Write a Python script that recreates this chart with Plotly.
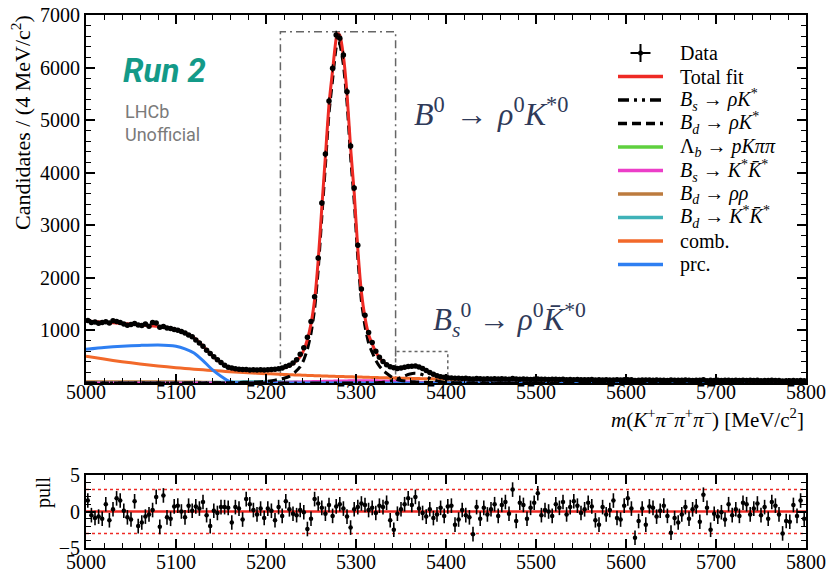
import plotly.graph_objects as go

# ---------------- data ----------------
BIN_CENTERS = [5002 + 4 * i for i in range(200)]

DATA_COUNTS = [
    1190, 1150, 1160, 1135, 1150, 1165, 1140, 1185, 1170, 1150,
    1120, 1100, 1115, 1130, 1105, 1095, 1120, 1080, 1150, 1140,
    1060, 1075, 1045, 1035, 1020, 1005, 980, 950, 915, 880,
    820, 760, 700, 625, 560, 500, 440, 390, 340, 300,
    285, 272, 262, 255, 258, 248, 252, 246, 250, 245,
    252, 256, 262, 272, 285, 315, 340, 380, 440, 545,
    670, 870, 1170, 1640, 2380, 3424, 4356, 5364, 5986, 6620,
    6560, 6240, 5541, 4508, 3709, 2620, 1790, 1290, 960, 770,
    605, 490, 410, 345, 308, 290, 276, 283, 300, 312,
    320, 322, 305, 275, 238, 200, 168, 140, 120, 108,
    100, 95, 90, 92, 86, 88, 82, 78, 84, 80,
    78, 82, 76, 79, 74, 80, 77, 72, 86, 74,
    70, 76, 71, 68, 73, 78, 70, 72, 66, 69,
    70, 67, 71, 64, 66, 63, 68, 61, 64, 60,
    65, 58, 62, 57, 63, 59, 55, 61, 58, 63,
    60, 64, 47, 54, 59, 55, 57, 53, 58, 54,
    52, 47, 55, 51, 54, 50, 55, 52, 49, 53,
    50, 60, 45, 52, 49, 51, 48, 50, 52, 48,
    51, 46, 50, 48, 52, 47, 50, 45, 49, 47,
    50, 46, 48, 38, 44, 43, 47, 42, 48, 44,
]

PULLS = [
    1.5, -0.5, -0.9, -0.7, -1.0, 1.0, -1.2, 0.3, 1.8, 1.5,
    0.1, -0.8, -1.1, 1.4, -2.0, -1.5, -0.7, -0.4, 0.2, 2.0,
    -2.1, 2.2, -0.8, -1.0, 0.7, 0.8, 0.0, -0.8, 0.8, 0.1,
    0.7, 0.4, 1.3, -0.5, -2.0, 0.1, -0.2, 0.6, 0.6, 0.5,
    -1.5, 0.6, 0.4, -1.1, 1.7, 1.0, 0.2, -0.4, 0.4, -0.9,
    0.4, 0.1, -1.2, 0.6, -0.6, 1.4, 0.3, -0.3, -0.5, 0.2,
    -0.1, -2.4, -1.0, 1.7, 1.1, 0.5, -0.3, 0.9, -0.6, 0.7,
    1.0, 0.4, -0.7, -2.2, 0.3, 0.6, 1.1, 0.9, 0.2, 0.5,
    -0.2, 0.8, 0.6, 1.2, -1.2, -2.5, -0.3, 0.3, 1.0, 1.8,
    0.9, 2.0, 0.4, -0.2, -0.7, 0.3, -0.9, -0.4, 0.5, -0.6,
    0.7, 0.8, -1.8, -1.1, 0.2, -0.5, -0.8, -3.1, 0.6, -1.0,
    0.5, -0.4, 0.3, 1.0, -0.6, 0.9, 1.3, -0.3, 3.0, -1.3,
    1.2, 0.9, -1.0, 0.5, 1.2, 2.5, -0.5, 0.2, 0.0, -0.6,
    1.0, 0.5, 1.3, -0.4, 0.6, 1.4, 0.8, -0.2, 0.3, 1.2,
    0.7, -1.2, -1.8, 0.6, -0.4, 0.2, 1.5, -0.9, -1.1, 0.8,
    1.8, 0.4, -3.6, -1.3, 0.4, -1.8, 0.7, 0.5, -0.7, 0.1,
    0.8, -0.6, -2.9, -0.9, -1.5, -0.4, 0.6, -1.0, 0.3, 0.7,
    -1.4, 2.3, 0.5, -2.5, -0.3, -0.7, -0.1, -1.1, 1.0, -0.5,
    0.3, -0.6, 1.2, 1.0, -0.4, 0.4, 1.1, -0.5, 0.6, -1.0,
    1.3, 0.8, -0.4, -3.0, -1.3, -1.4, 0.9, -0.6, 1.5, -1.0,
]

FIT_X = [
    5000, 5020, 5040, 5060, 5080, 5100, 5110, 5120, 5130, 5140,
    5150, 5160, 5170, 5180, 5190, 5200, 5210, 5220, 5226, 5232,
    5238, 5242, 5246, 5250, 5254, 5258, 5262, 5266, 5270, 5274,
    5278, 5280, 5282, 5286, 5290, 5294, 5298, 5302, 5306, 5310,
    5314, 5318, 5322, 5326, 5330, 5335, 5340, 5345, 5350, 5355,
    5360, 5365, 5370, 5375, 5380, 5385, 5390, 5400, 5410, 5425,
    5450, 5500, 5550, 5600, 5650, 5700, 5750, 5800,
]

COMB = [
    510, 455, 406, 363, 325, 292, 277, 263, 250, 238,
    226, 215, 205, 195, 186, 178, 170, 162, 158, 154,
    150, 147, 145, 142, 140, 137, 135, 133, 130, 128,
    126, 125, 124, 122, 120, 118, 116, 114, 112, 110,
    108, 106, 104, 102, 100, 98, 96, 94, 92, 90,
    88, 86, 84, 82, 80, 79, 77, 74, 71, 67,
    61, 52, 46, 41, 37, 34, 31, 29,
]

PRC = [
    640, 675, 700, 715, 725, 700, 650, 570, 425, 260,
    130, 25, 0, 0, 0, 0, 0, 0, 0, 0,
    0, 0, 0, 0, 0, 0, 0, 0, 0, 0,
    0, 0, 0, 0, 0, 0, 0, 0, 0, 0,
    0, 0, 0, 0, 0, 0, 0, 0, 0, 0,
    0, 0, 0, 0, 0, 0, 0, 0, 0, 0,
    0, 0, 0, 0, 0, 0, 0, 0,
]

BD_RHOK = [
    0, 0, 0, 0, 1, 1, 1, 2, 2, 3,
    4, 6, 10, 15, 21, 30, 55, 90, 125, 200,
    310, 440, 640, 940, 1400, 2150, 3150, 4130, 5130, 5770,
    6380, 6470, 6440, 6050, 5330, 4300, 3450, 2380, 1560, 1080,
    760, 580, 430, 320, 240, 170, 108, 70, 48, 36,
    28, 22, 17, 14, 11, 9, 7, 5, 3, 2,
    1, 0, 0, 0, 0, 0, 0, 0,
]

BS_RHOK = [
    0, 0, 0, 0, 0, 0, 0, 0, 0, 0,
    0, 0, 0, 0, 0, 0, 0, 0, 0, 0,
    0, 0, 0, 0, 0, 0, 0, 0, 0, 0,
    0, 0, 1, 1, 1, 1, 2, 2, 3, 3,
    4, 5, 6, 10, 16, 28, 45, 70, 105, 142,
    170, 184, 178, 150, 105, 68, 40, 12, 3, 1,
    0, 0, 0, 0, 0, 0, 0, 0,
]

LB_PKPIPI = [
    3, 3, 3, 3, 3, 3, 3, 3, 3, 3,
    3, 3, 3, 3, 3, 3, 3, 4, 4, 4,
    4, 4, 4, 4, 5, 5, 5, 5, 5, 6,
    6, 6, 6, 6, 7, 7, 7, 7, 8, 8,
    8, 8, 9, 9, 9, 9, 10, 10, 10, 10,
    11, 11, 11, 11, 12, 12, 12, 12, 13, 13,
    14, 15, 15, 14, 14, 13, 12, 11,
]

BS_KSTKST = [
    0, 0, 0, 0, 0, 0, 0, 0, 0, 0,
    0, 1, 2, 3, 5, 7, 10, 13, 15, 18,
    20, 22, 24, 26, 27, 29, 30, 32, 34, 35,
    37, 38, 38, 39, 40, 41, 42, 42, 42, 42,
    42, 42, 41, 40, 38, 36, 33, 30, 26, 22,
    18, 15, 12, 9, 7, 5, 3, 1, 0, 0,
    0, 0, 0, 0, 0, 0, 0, 0,
]

BD_RHORHO = [
    25, 24, 25, 25, 24, 22, 20, 18, 16, 13,
    11, 9, 7, 5, 4, 3, 2, 1, 1, 1,
    0, 0, 0, 0, 0, 0, 0, 0, 0, 0,
    0, 0, 0, 0, 0, 0, 0, 0, 0, 0,
    0, 0, 0, 0, 0, 0, 0, 0, 0, 0,
    0, 0, 0, 0, 0, 0, 0, 0, 0, 0,
    0, 0, 0, 0, 0, 0, 0, 0,
]

BD_KSTKST = [
    0, 0, 0, 0, 0, 0, 1, 3, 6, 10,
    14, 20, 21, 23, 24, 24, 23, 21, 20, 18,
    16, 15, 14, 13, 12, 11, 10, 9, 8, 7,
    6, 6, 5, 5, 4, 4, 3, 3, 2, 2,
    2, 1, 1, 1, 1, 1, 1, 0, 0, 0,
    0, 0, 0, 0, 0, 0, 0, 0, 0, 0,
    0, 0, 0, 0, 0, 0, 0, 0,
]

X_TICKS = [5000, 5100, 5200, 5300, 5400, 5500, 5600, 5700, 5800]
Y_TICKS = [1000, 2000, 3000, 4000, 5000, 6000, 7000]
PULL_TICKS = [-5, 0, 5]
PULL_TICK_TEXT = ["\u22125", "0", "5"]

LEGEND_LABELS = [
    "Data",
    "Total fit",
    "<i>B<sub>s</sub></i> \u2192 <i>\u03c1K</i><sup>*</sup>",
    "<i>B<sub>d</sub></i> \u2192 <i>\u03c1K</i><sup>*</sup>",
    "\u039b<sub><i>b</i></sub> \u2192 <i>pK\u03c0\u03c0</i>",
    "<i>B<sub>s</sub></i> \u2192 <i>K</i><sup>*</sup><i>K\u0304</i><sup>*</sup>",
    "<i>B<sub>d</sub></i> \u2192 <i>\u03c1\u03c1</i>",
    "<i>B<sub>d</sub></i> \u2192 <i>K</i><sup>*</sup><i>K\u0304</i><sup>*</sup>",
    "comb.",
    "prc.",
]

# signal windows drawn as boxes
BD_WINDOW = (5216, 5344, 6680)
BS_WINDOW = (5344, 5402, 600)

components = [COMB, PRC, BD_RHOK, BS_RHOK, LB_PKPIPI, BS_KSTKST, BD_RHORHO, BD_KSTKST]
for c in components:
    assert len(c) == len(FIT_X), len(c)
assert len(DATA_COUNTS) == 200 and len(PULLS) == 200
TOTAL_FIT = [sum(v) for v in zip(*components)]

# ---------------- styles ----------------
C_TOTAL = "#ee2a24"
C_LB = "#5fd03f"
C_BSKK = "#ec3ec8"
C_RHORHO = "#bc7b3e"
C_BDKK = "#3fb2b8"
C_COMB = "#f2692a"
C_PRC = "#2e7ff2"
DASH_BD = "9px,5px"
DASH_BS = "11px,5px,3px,5px,3px,5px"

# ---------------- figure ----------------
W, H = 830, 574
ML, MR, MT, MB = 86, 24, 15, 26
PW, PH = W - ML - MR, H - MT - MB


def px(x):
    return (x - ML) / PW


def py(y):
    return (H - MB - y) / PH


SERIF = "Liberation Serif"
fig = go.Figure()


def comp(y, color, dash="solid"):
    fig.add_trace(go.Scatter(
        x=FIT_X, y=y, mode="lines", showlegend=False,
        line=dict(color=color, width=3, dash=dash, shape="spline", smoothing=0.5),
        xaxis="x", yaxis="y", hoverinfo="skip"))


comp(BD_RHORHO, C_RHORHO)
comp(LB_PKPIPI, C_LB)
comp(BD_KSTKST, C_BDKK)
comp(BS_KSTKST, C_BSKK)
comp(COMB, C_COMB)
comp(PRC, C_PRC)
comp(BD_RHOK, "black", DASH_BD)
comp(BS_RHOK, "black", DASH_BS)
comp(TOTAL_FIT, C_TOTAL)

# data points
fig.add_trace(go.Scatter(
    x=BIN_CENTERS, y=DATA_COUNTS, mode="markers", showlegend=False,
    marker=dict(color="black", size=5.5),
    error_y=dict(type="data", array=[c ** 0.5 for c in DATA_COUNTS], color="black",
                 thickness=1.3, width=0),
    error_x=dict(type="constant", value=2, color="black", thickness=1.3, width=0),
    xaxis="x", yaxis="y"))

# pull panel
fig.add_trace(go.Scatter(
    x=BIN_CENTERS, y=PULLS, mode="markers", showlegend=False,
    marker=dict(color="black", size=4.5),
    error_y=dict(type="constant", value=1, color="black", thickness=1.6, width=0),
    error_x=dict(type="constant", value=2, color="black", thickness=1.2, width=0),
    xaxis="x2", yaxis="y2"))

axis_common = dict(
    showline=True, linecolor="black", linewidth=2, mirror="allticks",
    ticks="inside", ticklen=9, tickwidth=1.5, tickcolor="black",
    showgrid=False, zeroline=False, automargin=False,
    tickfont=dict(family=SERIF, size=20, color="black"),
)
minor_x = dict(dtick=20, tick0=5000, ticks="inside", ticklen=5, tickwidth=1.2, tickcolor="black")

fig.update_layout(
    width=W, height=H,
    margin=dict(l=ML, r=MR, t=MT, b=MB),
    paper_bgcolor="white", plot_bgcolor="white",
    font=dict(family=SERIF, color="black"),
    showlegend=False,
    xaxis=dict(axis_common, range=[5000, 5800], domain=[0, 1], anchor="y",
               tickvals=X_TICKS, ticklabelstandoff=-10, minor=minor_x),
    yaxis=dict(axis_common, range=[0, 7000], domain=[py(383), 1], anchor="x",
               tickvals=Y_TICKS,
               minor=dict(dtick=200, tick0=0, ticks="inside", ticklen=5,
                          tickwidth=1.2, tickcolor="black")),
    xaxis2=dict(axis_common, range=[5000, 5800], domain=[0, 1], anchor="y2",
                tickvals=X_TICKS, ticklabelstandoff=-5, minor=minor_x),
    yaxis2=dict(axis_common, range=[-5, 5], domain=[0, py(475)], anchor="x2",
                tickvals=PULL_TICKS, ticktext=PULL_TICK_TEXT,
                minor=dict(dtick=1, tick0=0, ticks="inside", ticklen=5,
                           tickwidth=1.2, tickcolor="black")),
)

# boxes around signal windows
fig.add_shape(type="rect", xref="x", yref="y", x0=BD_WINDOW[0], x1=BD_WINDOW[1],
              y0=0, y1=BD_WINDOW[2], layer="below",
              line=dict(color="#666666", width=1.5, dash="8px,4px,2px,4px"))
fig.add_shape(type="rect", xref="x", yref="y", x0=BS_WINDOW[0], x1=BS_WINDOW[1],
              y0=0, y1=BS_WINDOW[2], layer="below",
              line=dict(color="#666666", width=1.5, dash="dot"))

# pull reference lines
fig.add_shape(type="line", xref="x2", yref="y2", x0=5000, x1=5800, y0=0, y1=0,
              layer="below", line=dict(color=C_TOTAL, width=2.5))
for yv in (-3, 3):
    fig.add_shape(type="line", xref="x2", yref="y2", x0=5000, x1=5800, y0=yv, y1=yv,
                  layer="below", line=dict(color=C_TOTAL, width=1.5, dash="dot"))

# ---------------- legend (drawn by hand for ROOT-like spacing) ----------------
LEG_Y0, LEG_DY = 53, 23.5
LEG_X0, LEG_X1, LEG_TX = 618, 663, 678
legend_styles = [None, (C_TOTAL, "solid"), ("black", DASH_BS), ("black", DASH_BD),
                 (C_LB, "solid"), (C_BSKK, "solid"), (C_RHORHO, "solid"),
                 (C_BDKK, "solid"), (C_COMB, "solid"), (C_PRC, "solid")]
for i, (label, sty) in enumerate(zip(LEGEND_LABELS, legend_styles)):
    yc = LEG_Y0 + i * LEG_DY
    if sty is None:
        cx = (LEG_X0 + LEG_X1) / 2
        fig.add_shape(type="line", xref="paper", yref="paper", x0=px(cx - 10), x1=px(cx + 10),
                      y0=py(yc), y1=py(yc), line=dict(color="black", width=2))
        fig.add_shape(type="line", xref="paper", yref="paper", x0=px(cx), x1=px(cx),
                      y0=py(yc - 9), y1=py(yc + 9), line=dict(color="black", width=2))
        fig.add_shape(type="circle", xref="paper", yref="paper", x0=px(cx - 2.5),
                      x1=px(cx + 2.5), y0=py(yc - 2.5), y1=py(yc + 2.5),
                      fillcolor="black", line=dict(color="black", width=0))
    else:
        fig.add_shape(type="line", xref="paper", yref="paper", x0=px(LEG_X0), x1=px(LEG_X1),
                      y0=py(yc), y1=py(yc), line=dict(color=sty[0], width=3.5, dash=sty[1]))
    fig.add_annotation(xref="paper", yref="paper", showarrow=False, text=label,
                       x=px(LEG_TX), y=py(yc), xanchor="left", yanchor="middle",
                       font=dict(family=SERIF, size=20, color="black"))

ann = [
    dict(text="Candidates / (4 MeV/c<sup>2</sup>)", x=px(21), y=py(123), textangle=-90,
         xanchor="center", yanchor="middle", font=dict(family=SERIF, size=22)),
    dict(text="<i>m</i>(<i>K</i><sup>+</sup><i>\u03c0</i><sup>\u2212</sup><i>\u03c0</i><sup>+</sup>"
              "<i>\u03c0</i><sup>\u2212</sup>) [MeV/c<sup>2</sup>]",
         x=px(806), y=py(418), xanchor="right", yanchor="middle",
         font=dict(family=SERIF, size=21)),
    dict(text="pull", x=px(43), y=py(492), textangle=-90, xanchor="center",
         yanchor="middle", font=dict(family=SERIF, size=20)),
    dict(text="<b><i>Run 2</i></b>", x=px(121), y=py(70), xanchor="left", yanchor="middle",
         font=dict(family="Roboto", size=33, color="#139a88")),
    dict(text="LHCb<br>Unofficial", x=px(123), y=py(123), xanchor="left", yanchor="middle",
         align="left", font=dict(family="Roboto", size=18, color="#7a7a7a")),
    dict(text="<i>B</i><sup>0</sup>\u2004\u2192\u2004<i>\u03c1</i><sup>0</sup><i>K</i><sup>*0</sup>",
         x=px(412), y=py(112), xanchor="left", yanchor="middle",
         font=dict(family=SERIF, size=32, color="#2f3a59")),
    dict(text="<i>B</i><sub><i>s</i></sub><sup>0</sup> \u2192 <i>\u03c1</i><sup>0</sup>"
              "<i>K\u0304</i><sup>*0</sup>",
         x=px(431), y=py(320), xanchor="left", yanchor="middle",
         font=dict(family=SERIF, size=31, color="#2f3a59")),
]
for a in ann:
    fig.add_annotation(xref="paper", yref="paper", showarrow=False, **a)

fig.write_html("out.html", config={"displayModeBar": False},
               post_script="document.body.style.margin='0';document.body.style.overflow='hidden';")
